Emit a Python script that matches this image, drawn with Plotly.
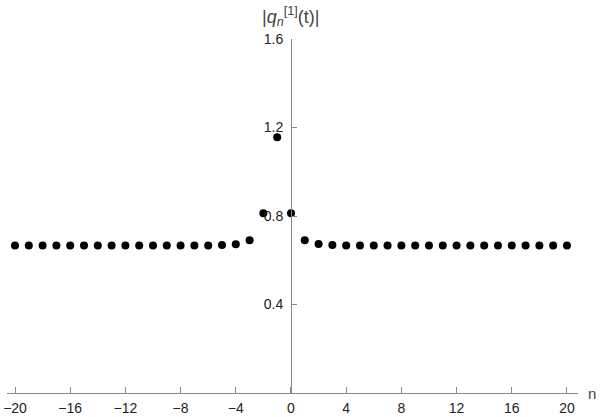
import plotly.graph_objects as go

n_values = list(range(-20, 21))
q_abs = ([0.667] * 15 + [0.669, 0.672, 0.69, 0.812, 1.156, 0.812, 0.69, 0.673, 0.669] + [0.667] * 17)

x_ticks = [-20, -16, -12, -8, -4, 0, 4, 8, 12, 16, 20]
y_ticks = [0.4, 0.8, 1.2, 1.6]

W, H = 600, 417
ml, mr, mt, mb = 7, 22, 39, 23.5
x_range = [-20.58, 20.8]
y_range = [0, 1.6]
ypos = (0 - x_range[0]) / (x_range[1] - x_range[0])

axis_col = "#888888"
fam = "Liberation Sans, Arial, sans-serif"
font = dict(family=fam, size=14, color="#222222")

fig = go.Figure()
fig.add_trace(go.Scatter(x=n_values, y=q_abs, mode="markers",
                         marker=dict(color="black", size=8), showlegend=False))

fig.update_layout(
    width=W, height=H,
    margin=dict(l=ml, r=mr, t=mt, b=mb, pad=0, autoexpand=False),
    plot_bgcolor="white", paper_bgcolor="white",
    font=font,
    xaxis=dict(range=x_range, tickvals=x_ticks, showgrid=False, zeroline=False,
               showline=True, linecolor=axis_col, linewidth=1,
               ticks="inside", ticklen=6, tickcolor=axis_col, automargin=False,
               tickfont=font, ticklabelstandoff=2),
    yaxis=dict(range=y_range, tickvals=y_ticks, tickformat=".1f", showgrid=False, zeroline=False,
               showline=True, linecolor=axis_col, linewidth=1,
               ticks="inside", ticklen=5, tickcolor=axis_col, automargin=False,
               anchor="free", position=ypos, tickfont=font, ticklabelstandoff=5),
    annotations=[
        dict(text="|<i>q</i><sub><i>n</i></sub><sup>[1]</sup>(t)|", x=ypos, y=1, xref="paper", yref="paper",
             xanchor="center", yanchor="bottom", yshift=8, showarrow=False,
             font=dict(family=fam, size=18, color="#444444")),
        dict(text="n", x=1, y=0, xref="paper", yref="paper", xanchor="left", yanchor="middle",
             xshift=8, showarrow=False,
             font=dict(family=fam, size=15, color="#444444")),
    ],
)

fig.write_html("out.html", config={"displayModeBar": False},
               post_script="document.body.style.margin='0';")
